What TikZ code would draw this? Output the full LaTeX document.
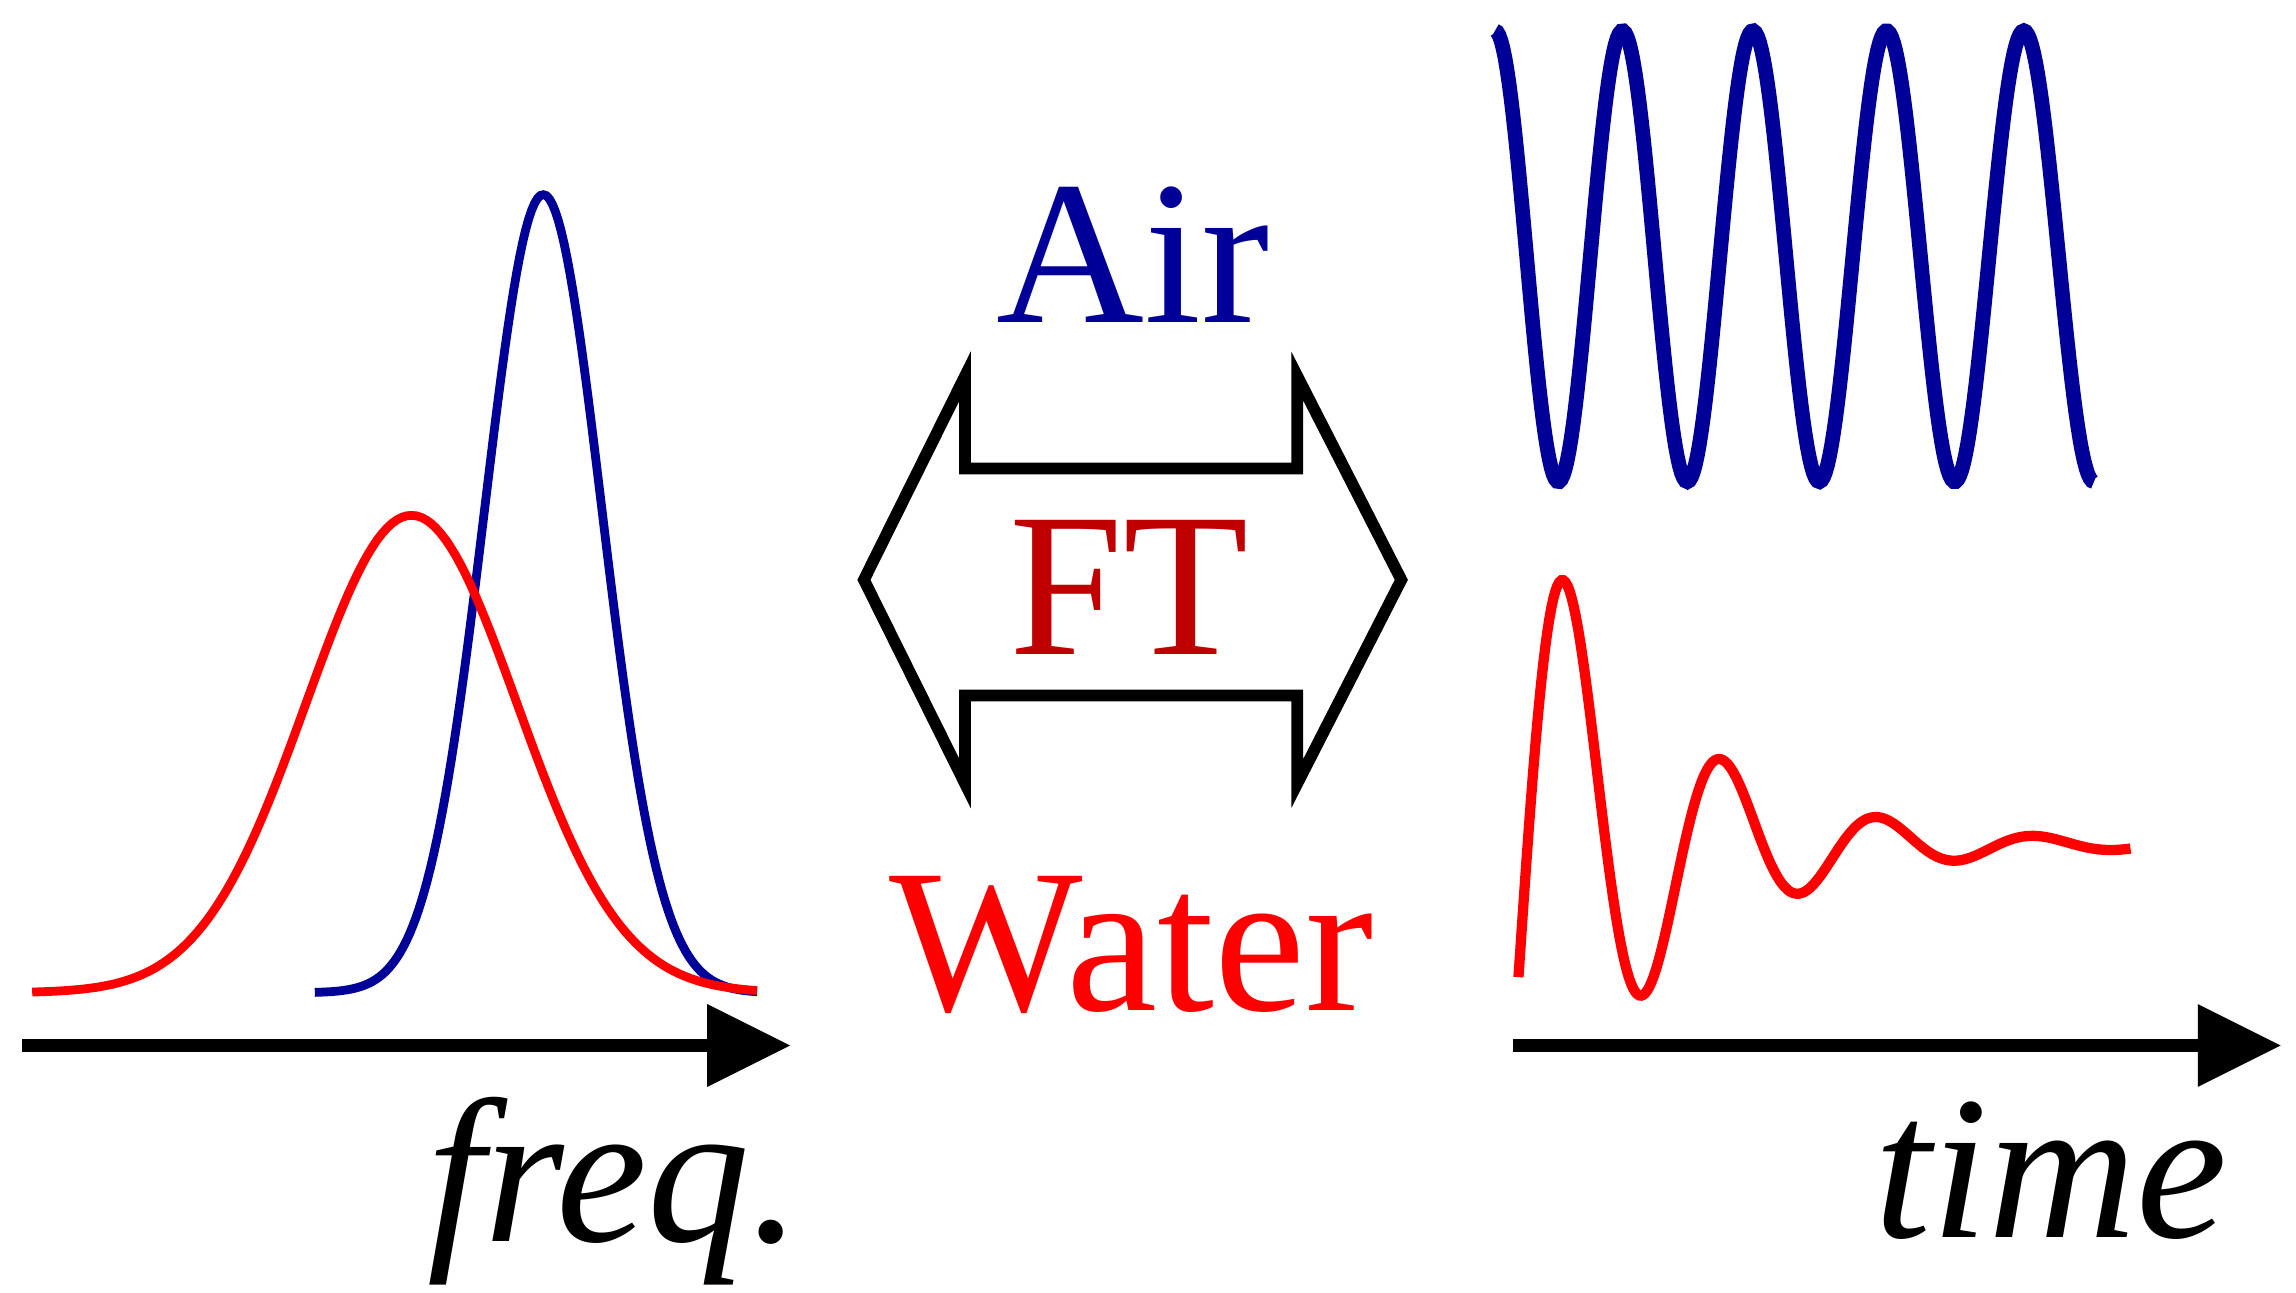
\documentclass[tikz,border=0pt]{standalone}
\usepackage{fontspec}
\setmainfont{Liberation Serif}
\usetikzlibrary{arrows.meta}
\definecolor{airblue}{RGB}{0,0,153}
\definecolor{ftred}{RGB}{192,0,0}
\definecolor{waterred}{RGB}{255,0,0}
\tikzset{
  axis/.style={line width=0.09cm,-{Triangle[length=0.57cm,width=0.54cm]}},
  bigtext/.style={inner sep=0pt,anchor=base,font=\fontsize{39.8pt}{48pt}\selectfont},
}
\begin{document}
\begin{tikzpicture}[x=0.01cm,y=-0.01cm]
    \useasboundingbox (0,0) rectangle (1568,883);
    % Spectra
    \draw[airblue,line width=0.06cm] plot[domain=215:517,samples=150] ({\x},{678-545*exp(-((\x-371)/40)^2/2)});
    \draw[waterred,line width=0.06cm] plot[domain=22:517,samples=150] ({\x},{678-326*exp(-((\x-281)/72)^2/2)});

    % Signals in time
    \draw[airblue,line width=0.1cm] plot[domain=1021:1430,samples=300] ({\x},{175-154*cos(180*((\x-1021)/43-0.0305*((\x-1021)/100)^2))});
    \draw[waterred,line width=0.07cm] plot[domain=1037:1455,samples=300] ({\x},{577-178*exp(-(\x-1070)/95)*cos(3.364*(\x-1070))});

    % Axes
    \coordinate (fo) at (15,714);
    \coordinate (fx) at (540,714);
    \coordinate (to) at (1033,714);
    \coordinate (tx) at (1558,714);
    \draw[axis] (fo) -- (fx);
    \draw[axis] (to) -- (tx);
    \node[bigtext,anchor=base east] (freq) at (548,848) {\itshape freq.};
    \node[bigtext,anchor=base east] (time) at (1522,845) {\itshape time};

    % Double arrow
    \draw[line width=0.08cm] (590,396) -- (659,257) -- (659,320) -- (886,320) -- (886,257)
        -- (957,396) -- (886,535) -- (886,475) -- (659,475) -- (659,535) -- cycle;

    % Labels
    \node[bigtext,airblue] (air) at (774,220) {Air};
    \node[bigtext,ftred] (ft) at (771,447) {FT};
    \node[bigtext,waterred] (water) at (773,690) {Water};
\end{tikzpicture}
\end{document}
